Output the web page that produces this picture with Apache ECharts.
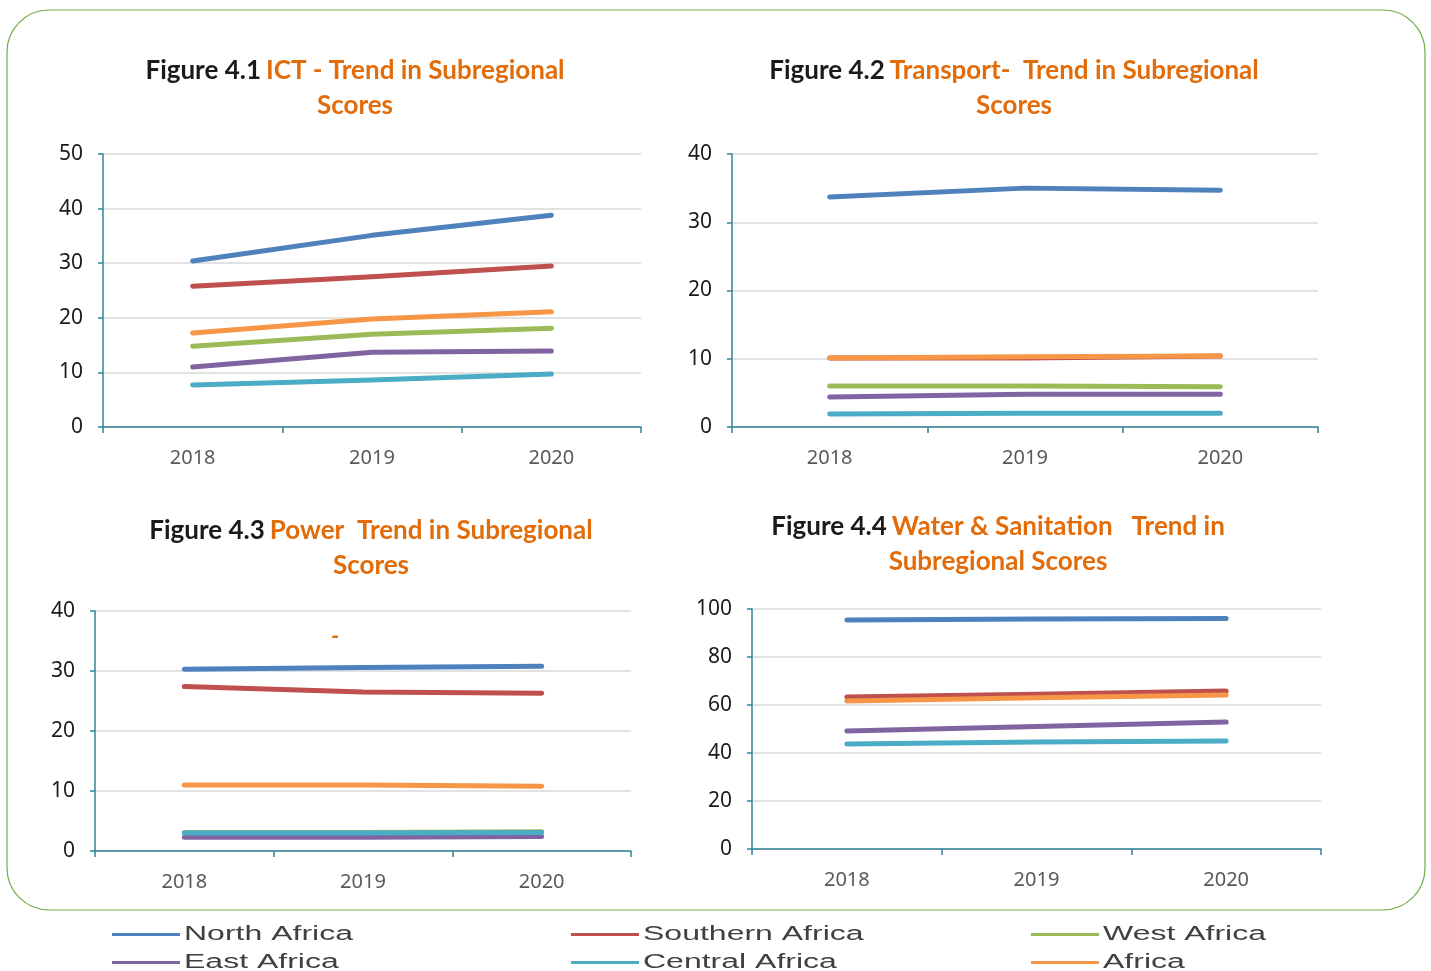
<!DOCTYPE html>
<html>
<head>
<meta charset="utf-8">
<script src="https://cdn.jsdelivr.net/npm/echarts@6/dist/echarts.min.js"></script>
<style>
  html, body { margin: 0; padding: 0; background: #fff; }
  #main { width: 1431px; height: 971px; }
</style>
</head>
<body>
<div id="main"></div>
<script>
// data
const years = ["2018", "2019", "2020"];
const regions = ["North Africa", "Southern Africa", "West Africa", "East Africa", "Central Africa", "Africa"];
const colors = ["#4f81bd", "#c0504d", "#9bbb59", "#8064a2", "#4bacc6", "#f79646"];

// Figure 4.1 ICT
const ictNorth = [30.4, 35.1, 38.8];
const ictSouthern = [25.8, 27.5, 29.5];
const ictWest = [14.8, 17.0, 18.1];
const ictEast = [11.0, 13.7, 13.9];
const ictCentral = [7.7, 8.6, 9.7];
const ictAfrica = [17.2, 19.8, 21.1];

// Figure 4.2 Transport
const trNorth = [33.7, 35.0, 34.7];
const trSouthern = [10.1, 10.1, 10.4];
const trWest = [6.0, 6.0, 5.9];
const trEast = [4.4, 4.8, 4.8];
const trCentral = [1.9, 2.0, 2.0];
const trAfrica = [10.1, 10.3, 10.4];

// Figure 4.3 Power
const pwNorth = [30.3, 30.6, 30.8];
const pwSouthern = [27.4, 26.5, 26.3];
const pwWest = [3.1, 3.1, 3.2];
const pwEast = [2.3, 2.3, 2.4];
const pwCentral = [3.0, 3.0, 3.1];
const pwAfrica = [11.0, 11.0, 10.8];

// Figure 4.4 Water & Sanitation (West Africa not shown)
const wsNorth = [95.4, 95.8, 96.0];
const wsSouthern = [63.3, 64.5, 65.8];
const wsWest = [null, null, null];
const wsEast = [49.2, 51.0, 52.9];
const wsCentral = [43.8, 44.6, 45.0];
const wsAfrica = [61.7, 63.0, 64.2];

const yTicks = [
  { max: 50, interval: 10 },
  { max: 40, interval: 10 },
  { max: 40, interval: 10 },
  { max: 100, interval: 20 }
];

const panels = [
  [ictNorth, ictSouthern, ictWest, ictEast, ictCentral, ictAfrica],
  [trNorth, trSouthern, trWest, trEast, trCentral, trAfrica],
  [pwNorth, pwSouthern, pwWest, pwEast, pwCentral, pwAfrica],
  [wsNorth, wsSouthern, wsWest, wsEast, wsCentral, wsAfrica]
];

const grids = [
  { left: 103, top: 154, width: 538, height: 273 },
  { left: 732, top: 154, width: 586, height: 273 },
  { left: 95, top: 611, width: 536, height: 240 },
  { left: 752, top: 609, width: 569, height: 240 }
];

const axisColor = "#31849b";
const titleFont = "Lato, 'Open Sans', sans-serif";
const numFont = "'Noto Sans', 'Open Sans', sans-serif";

const titleRich = {
  k: { color: "#1a1a1a", fontWeight: "bold", fontSize: 26, fontFamily: titleFont, lineHeight: 35 },
  o: { color: "#e36c0a", fontWeight: "bold", fontSize: 26, fontFamily: titleFont, lineHeight: 35 }
};

const titles = [
  { text: "{k|Figure 4.1} {o|ICT - Trend in Subregional}\n{o|Scores}", x: 350, y: 48 },
  { text: "{k|Figure 4.2} {o|Transport-  Trend in Subregional}\n{o|Scores}", x: 1009, y: 48 },
  { text: "{k|Figure 4.3} {o|Power  Trend in Subregional}\n{o|Scores}", x: 366, y: 508 },
  { text: "{k|Figure 4.4} {o|Water & Sanitation   Trend in}\n{o|Subregional Scores}", x: 993, y: 504 }
];

const series = [];
panels.forEach((panel, p) => {
  panel.forEach((vals, i) => {
    series.push({
      name: regions[i],
      type: "line",
      xAxisIndex: p,
      yAxisIndex: p,
      data: vals,
      showSymbol: false,
      symbol: "none",
      lineStyle: { color: colors[i], width: 5, cap: "round", join: "round" },
      itemStyle: { color: colors[i] },
      silent: true
    });
  });
});

// one legend per item, 3 columns x 2 rows; the label is drawn as a stretched text next to it
const legendPos = [
  [112, 934], [571, 934], [1031, 934],
  [112, 962], [571, 962], [1031, 962]
];
const legends = regions.map((r, i) => ({
  data: [r],
  left: legendPos[i][0],
  top: legendPos[i][1] - 1,
  icon: "rect",
  itemWidth: 68,
  itemHeight: 3,
  padding: 0,
  formatter: () => "",
  selectedMode: false
}));
const legendTexts = regions.map((r, i) => ({
  type: "text",
  x: legendPos[i][0] + 72,
  y: legendPos[i][1],
  scaleX: 1.6,
  silent: true,
  style: {
    text: r,
    fill: "#404040",
    fontSize: 20,
    fontFamily: "'Liberation Sans', Arial, sans-serif",
    verticalAlign: "middle",
    align: "left"
  }
}));

const chart = echarts.init(document.getElementById("main"));
chart.setOption({
  animation: false,
  title: titles.map(t => ({
    text: t.text,
    left: t.x,
    top: t.y,
    textAlign: "center",
    textStyle: { rich: titleRich }
  })),
  legend: legends,
  grid: grids,
  xAxis: grids.map((g, p) => ({
    type: "category",
    gridIndex: p,
    data: years,
    boundaryGap: true,
    axisLine: { lineStyle: { color: axisColor, width: 1.5 } },
    axisTick: { show: true, length: 6, lineStyle: { color: axisColor, width: 1.5 } },
    axisLabel: { color: "#595959", fontSize: 20, fontFamily: numFont, margin: 21 }
  })),
  yAxis: yTicks.map((t, p) => ({
    type: "value",
    gridIndex: p,
    min: 0,
    max: t.max,
    interval: t.interval,
    axisLine: { show: true, lineStyle: { color: axisColor, width: 1.5 } },
    axisTick: { show: true, length: 5, lineStyle: { color: axisColor, width: 1.5 } },
    axisLabel: { color: "#1a1a1a", fontSize: 21, fontFamily: numFont, margin: 20 },
    splitLine: { lineStyle: { color: "#d9d9d9", width: 1.5 } }
  })),
  series: series,
  graphic: [
    {
      type: "rect",
      shape: { x: 7, y: 10, width: 1418, height: 900, r: 42 },
      style: { fill: "none", stroke: "#70ad47", lineWidth: 1.2 },
      silent: true
    },
    {
      type: "text",
      left: 331,
      top: 626,
      style: { text: "-", fill: "#e36c0a", fontSize: 22, fontWeight: "bold", fontFamily: titleFont }
    }
  ].concat(legendTexts)
});
</script>
</body>
</html>
